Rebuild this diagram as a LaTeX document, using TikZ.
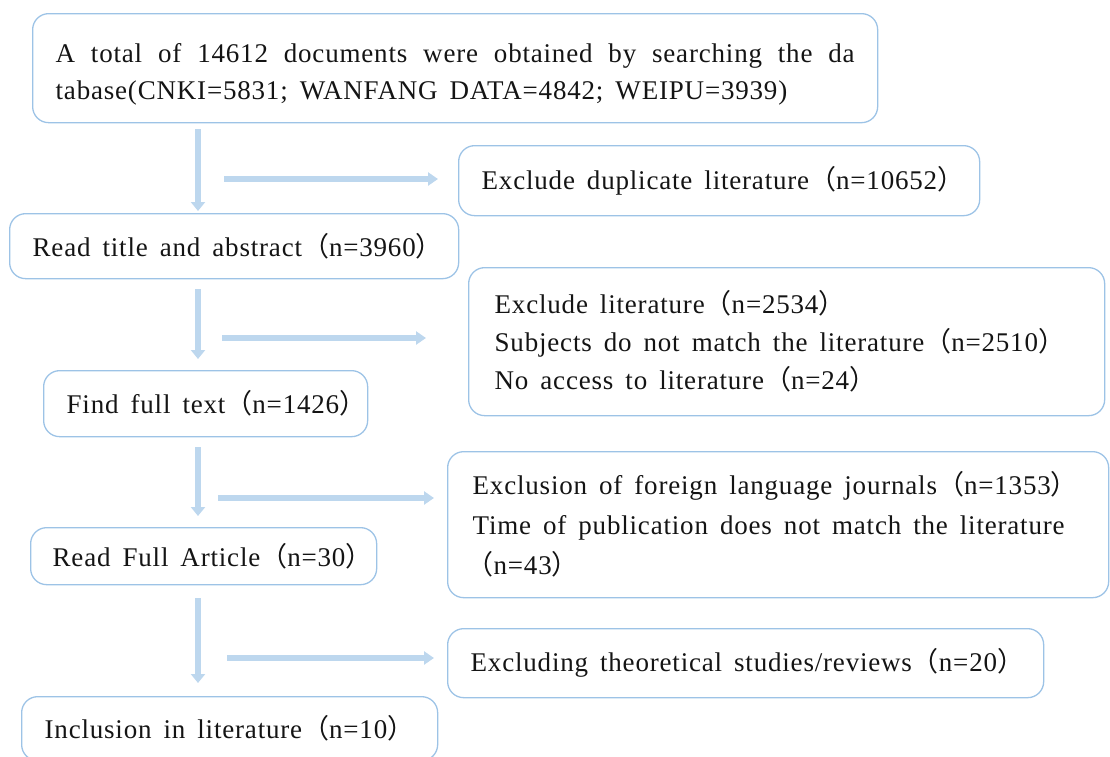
\documentclass[tikz,border=0pt]{standalone}
\usepackage{fontspec}
\setmainfont[LetterSpace=3]{Liberation Serif}
\newfontfamily\cjk{Noto Sans CJK SC}
\newcommand{\fwl}{{\cjk （}}
\newcommand{\fwr}{{\cjk ）}}
\newcommand{\flowfont}{\fontsize{27}{38}\selectfont}
\newcommand{\srcfont}{\fontsize{27}{37}\selectfont}
\usetikzlibrary{arrows.meta}
\definecolor{boxline}{RGB}{157,195,230}
\definecolor{arrowfill}{RGB}{189,215,238}
\tikzset{
  flowbox/.style={draw=boxline, line width=1.3pt, rounded corners=16pt,
    anchor=north west, align=left, inner xsep=23pt, inner ysep=2pt,
    text=black!92, font=\flowfont,
    execute at begin node={\spaceskip=12pt plus 30pt minus 2pt\relax}},
  downarrow/.style={draw=arrowfill, line width=6pt, -{Triangle[width=14pt,length=9pt]}},
  sidearrow/.style={draw=arrowfill, line width=5.5pt, -{Triangle[width=13pt,length=10pt]}},
}
\begin{document}
\begin{tikzpicture}[x=1pt,y=-1pt]
    \useasboundingbox (0,0) rectangle (1110,756);

    % left column
    \node[flowbox, minimum width=845pt, minimum height=109pt, text width=799pt, font=\srcfont] (src) at (32,13)
        {\rule{0pt}{31pt}\makebox[799pt][s]{A total of 14612 documents were obtained by searching the da}\\
         tabase(CNKI=5831; WANFANG DATA=4842; WEIPU=3939)};
    \node[flowbox, minimum width=449pt, minimum height=65pt, text width=403pt] (read) at (9,213)
        {\mbox{Read title and abstract\fwl n=3960\fwr}};
    \node[flowbox, minimum width=324pt, minimum height=66pt, text width=278pt, inner xsep=22pt] (full) at (43,370)
        {\mbox{Find full text\fwl n=1426\fwr}};
    \node[flowbox, minimum width=346pt, minimum height=57pt, text width=302pt, inner xsep=22pt] (article) at (30,527)
        {\mbox{Read Full Article\fwl n=30\fwr}};
    \node[flowbox, minimum width=416pt, minimum height=64pt, text width=370pt] (incl) at (21,696)
        {\mbox{Inclusion in literature\fwl n=10\fwr}};

    % right column
    \node[flowbox, minimum width=521pt, minimum height=70pt, text width=475pt] (dup) at (458,145)
        {\mbox{Exclude duplicate literature\fwl n=10652\fwr}};
    \node[flowbox, minimum width=636pt, minimum height=148pt, text width=584pt, inner xsep=26pt] (excl1) at (468,267)
        {Exclude literature\fwl n=2534\fwr\\
         \mbox{Subjects do not match the literature\fwl n=2510\fwr}\\
         No access to literature\fwl n=24\fwr};
    \node[flowbox, minimum width=661pt, minimum height=146pt, text width=611pt, inner xsep=25pt,
          font=\fontsize{27}{40}\selectfont] (excl2) at (447,451)
        {\mbox{Exclusion of foreign language journals\fwl n=1353\fwr}\\
         \mbox{Time of publication does not match the literature}\\
         \hspace*{-6pt}\fwl n=43\fwr};
    \node[flowbox, minimum width=596pt, minimum height=69pt, text width=550pt] (theo) at (447,628)
        {\mbox{Excluding theoretical studies/reviews\fwl n=20\fwr}};

    % arrows
    \coordinate (colx) at (198,0);
    \draw[downarrow, shorten <=6pt, shorten >=2pt] (src.south -| colx) -- (read.north -| colx);
    \draw[downarrow, shorten <=10pt, shorten >=11pt] (read.south -| colx) -- (full.north -| colx);
    \draw[downarrow, shorten <=10pt, shorten >=11pt] (full.south -| colx) -- (article.north -| colx);
    \draw[downarrow, shorten <=13pt, shorten >=13pt] (article.south -| colx) -- (incl.north -| colx);

    \coordinate (s1) at (224,179);
    \coordinate (s2) at (222,338);
    \coordinate (s3) at (218,498);
    \coordinate (s4) at (227,658);
    \draw[sidearrow, shorten >=20pt] (s1) -- (s1 -| dup.west);
    \draw[sidearrow, shorten >=42pt] (s2) -- (s2 -| excl1.west);
    \draw[sidearrow, shorten >=13pt] (s3) -- (s3 -| excl2.west);
    \draw[sidearrow, shorten >=13pt] (s4) -- (s4 -| theo.west);
\end{tikzpicture}
\end{document}
